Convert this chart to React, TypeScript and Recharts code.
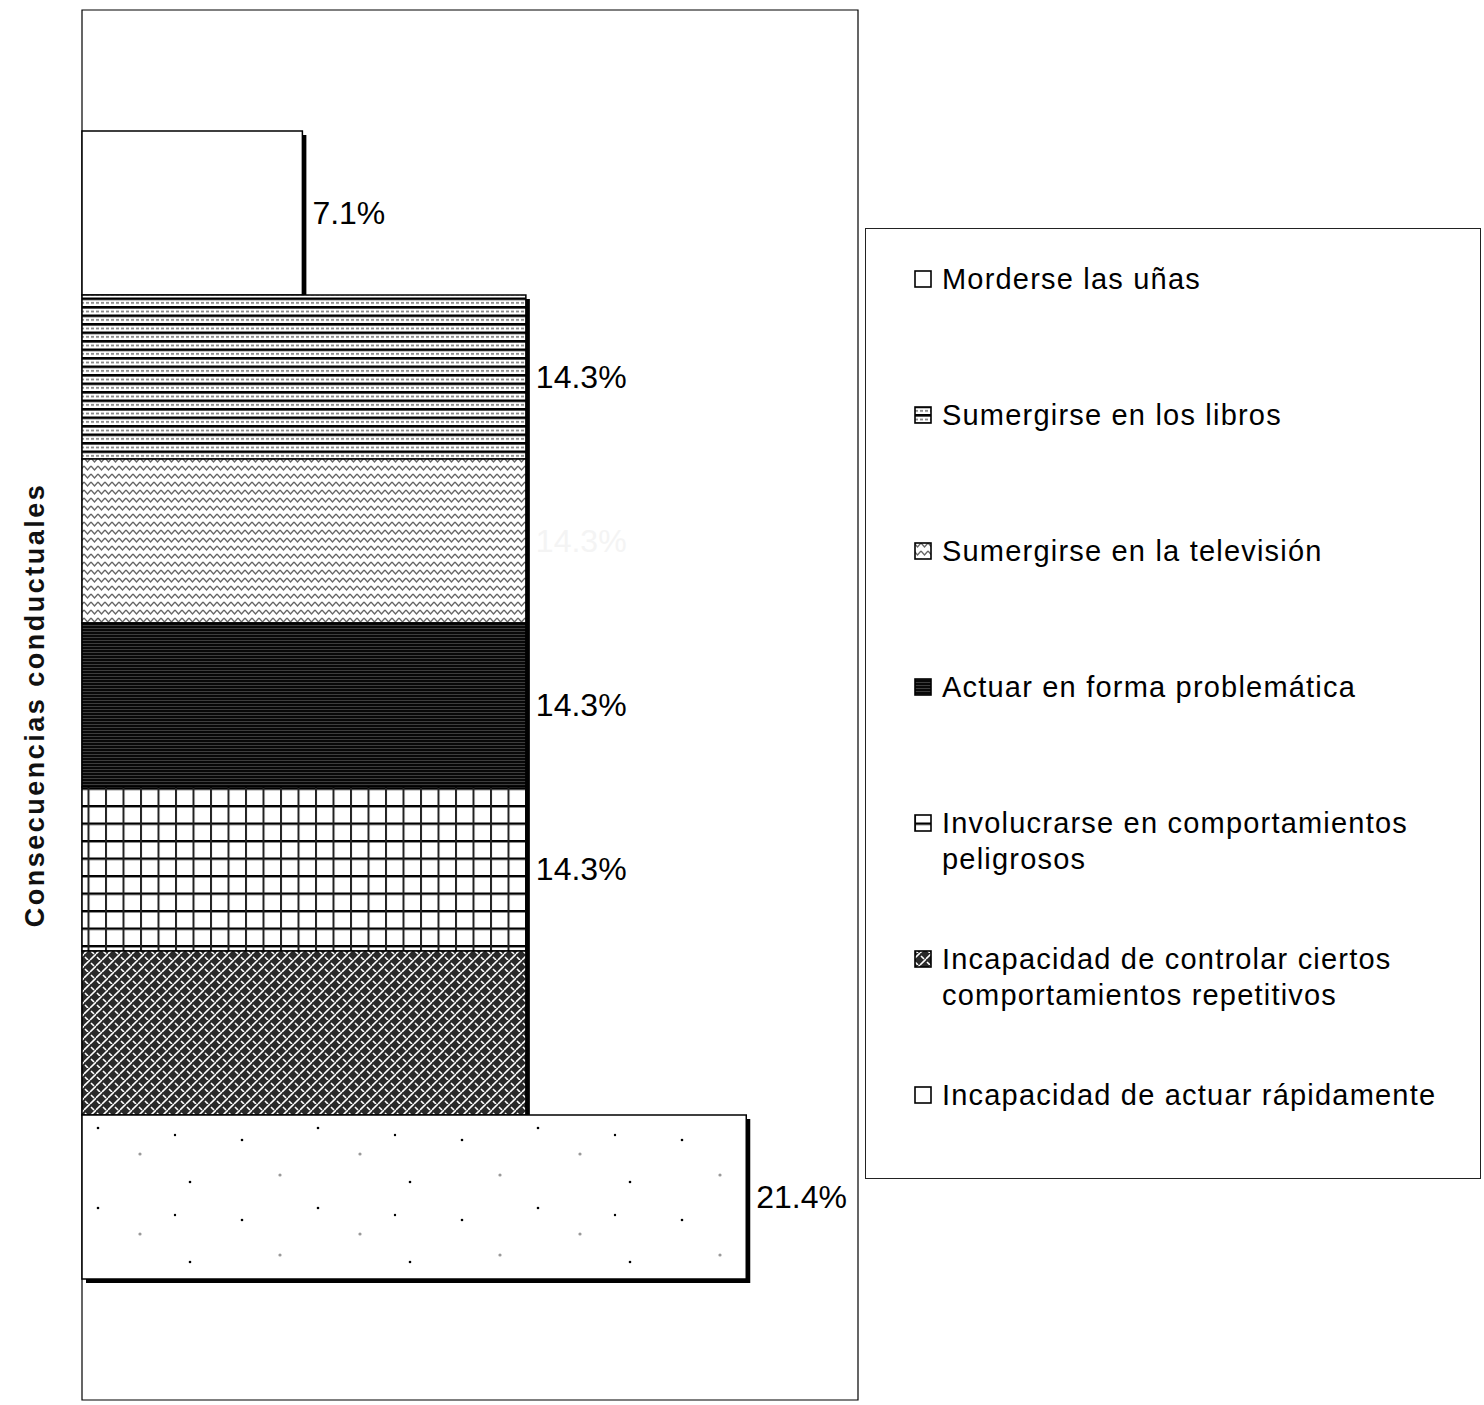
import React from 'react';
import { BarChart, Bar, XAxis, YAxis, Legend, LabelList, ReferenceArea } from 'recharts';

// ---------- data ----------
const categories = ['Consecuencias conductuales'];
const seriesKeys = ['unas', 'libros', 'television', 'actuar', 'involucrarse', 'controlar', 'rapidamente'];
const seriesNames = [
  'Morderse las uñas',
  'Sumergirse en los libros',
  'Sumergirse en la televisión',
  'Actuar en forma problemática',
  'Involucrarse en comportamientos peligrosos',
  'Incapacidad de controlar ciertos comportamientos repetitivos',
  'Incapacidad de actuar rápidamente',
];
const seriesValues = [7.1, 14.3, 14.3, 14.3, 14.3, 14.3, 21.4];
const xDomain = [0, 25];

// ---------- styles ----------
const patternIds = ['p-blank', 'p-libros', 'p-tv', 'p-actuar', 'p-grid', 'p-weave', 'p-dots'];
const labelColors = ['#000', '#000', '#f4f4f4', '#000', '#000', 'none', '#000'];
const FONT = '"Liberation Sans", Arial, sans-serif';

const data = categories.map((c) => {
  const row: Record<string, any> = { category: c };
  seriesKeys.forEach((k, i) => (row[k] = seriesValues[i]));
  return row;
});

const BarShape = (props: any) => {
  const { x, y, width, height, fill } = props;
  if (!width || width <= 0) return null;
  return (
    <g>
      <rect x={x + 4} y={y + 4} width={width} height={height} fill="#000" />
      <rect x={x} y={y} width={width} height={height} fill={fill} stroke="#000" strokeWidth={1.5} />
    </g>
  );
};

const CategoryTick = (props: any) => {
  const { y, payload } = props;
  return (
    <text
      x={35}
      y={y}
      transform={`rotate(-90, 35, ${y})`}
      textAnchor="middle"
      dominantBaseline="central"
      fontFamily={FONT}
      fontWeight="bold"
      fontSize={27}
      letterSpacing={2.5}
      fill="#111"
    >
      {payload.value}
    </text>
  );
};

const renderLegend = (props: any) => {
  const items = [...(props.payload || [])].sort(
    (a: any, b: any) => seriesKeys.indexOf(a.dataKey) - seriesKeys.indexOf(b.dataKey)
  );
  return (
    <div
      style={{
        boxSizing: 'border-box',
        width: 616,
        height: 951,
        border: '1.5px solid #222',
        paddingTop: 32,
        paddingLeft: 48,
        fontFamily: FONT,
        fontSize: 29,
        letterSpacing: 1.2,
        color: '#000',
        background: '#fff',
      }}
    >
      {items.map((it: any, i: number) => (
        <div key={i} style={{ height: 136, display: 'flex', alignItems: 'flex-start' }}>
          <svg width={19} height={36} style={{ flex: 'none' }}>
            <rect x={1} y={10} width={16} height={16} fill={it.color} stroke="#000" strokeWidth={1.6} />
          </svg>
          <span style={{ lineHeight: '36px', width: 525, marginLeft: 9 }}>{it.value}</span>
        </div>
      ))}
    </div>
  );
};

export default function App() {
  return (
    <div style={{ position: 'fixed', left: 0, top: 0, width: 1484, height: 1405, background: '#fff' }}>
      <BarChart
        width={1484}
        height={1405}
        data={data}
        layout="vertical"
        margin={{ top: 10, right: 626, bottom: 5, left: 10 }}
        barCategoryGap={121}
        barGap={0}
      >
        <defs>
          <pattern id="p-blank" width="10" height="10" patternUnits="userSpaceOnUse">
            <rect width="10" height="10" fill="#fff" />
          </pattern>
          <pattern id="p-libros" width="10" height="8.5" patternUnits="userSpaceOnUse">
            <rect width="10" height="8.5" fill="#fff" />
            <rect y="0" width="10" height="2.6" fill="#000" />
            <rect x="1" y="4.6" width="3" height="1.6" fill="#777" />
            <rect x="6" y="4.6" width="3" height="1.6" fill="#777" />
          </pattern>
          <pattern id="p-tv" width="7" height="8" patternUnits="userSpaceOnUse">
            <rect width="7" height="8" fill="#fff" />
            <polyline points="0,2 3.5,6 7,2" fill="none" stroke="#666" strokeWidth="1.3" />
          </pattern>
          <pattern id="p-actuar" width="10" height="3" patternUnits="userSpaceOnUse">
            <rect width="10" height="3" fill="#080808" />
            <rect y="1" width="10" height="0.8" fill="#4a4a4a" />
          </pattern>
          <pattern id="p-grid" width="17.5" height="17.5" patternUnits="userSpaceOnUse">
            <rect width="17.5" height="17.5" fill="#fff" />
            <rect x="0" y="0" width="17.5" height="2.4" fill="#000" />
            <rect x="0" y="0" width="2" height="17.5" fill="#222" />
          </pattern>
          <pattern id="p-weave" width="12" height="12" patternUnits="userSpaceOnUse">
            <rect width="12" height="12" fill="#2a2a2a" />
            <path d="M0,6 L6,0 M6,12 L12,6" stroke="#fff" strokeWidth="1.6" />
            <path d="M7,3 L10,6 M1,9 L4,12" stroke="#fff" strokeWidth="1.6" />
          </pattern>
          <pattern id="p-dots" width="220" height="80" patternUnits="userSpaceOnUse">
            <rect width="220" height="80" fill="#fff" />
            <circle cx="22" cy="20" r="1.3" fill="#000" />
            <circle cx="98" cy="8" r="1.3" fill="#000" />
            <circle cx="140" cy="34" r="1.6" fill="#999" />
            <circle cx="175" cy="15" r="1.2" fill="#000" />
            <circle cx="60" cy="55" r="1.6" fill="#999" />
            <circle cx="190" cy="62" r="1.3" fill="#000" />
          </pattern>
        </defs>
        <XAxis type="number" domain={xDomain} hide />
        <YAxis
          type="category"
          dataKey="category"
          width={72}
          axisLine={false}
          tickLine={false}
          tick={<CategoryTick />}
        />
        <ReferenceArea x1={xDomain[0]} x2={xDomain[1]} fill="#fff" fillOpacity={0} stroke="#000" strokeWidth={1.2} />
        {seriesKeys.map((k, i) => (
          <Bar
            key={k}
            dataKey={k}
            name={seriesNames[i]}
            fill={`url(#${patternIds[i]})`}
            shape={<BarShape />}
            isAnimationActive={false}
          >
            <LabelList
              dataKey={k}
              position="right"
              offset={10}
              formatter={(v: any) => `${v}%`}
              fill={labelColors[i]}
              fontSize={32}
              fontFamily={FONT}
            />
          </Bar>
        ))}
        <Legend
          layout="vertical"
          align="center"
          verticalAlign="middle"
          content={renderLegend}
          wrapperStyle={{ position: 'absolute', left: 865, top: 228, width: 616, height: 951 }}
        />
      </BarChart>
    </div>
  );
}
